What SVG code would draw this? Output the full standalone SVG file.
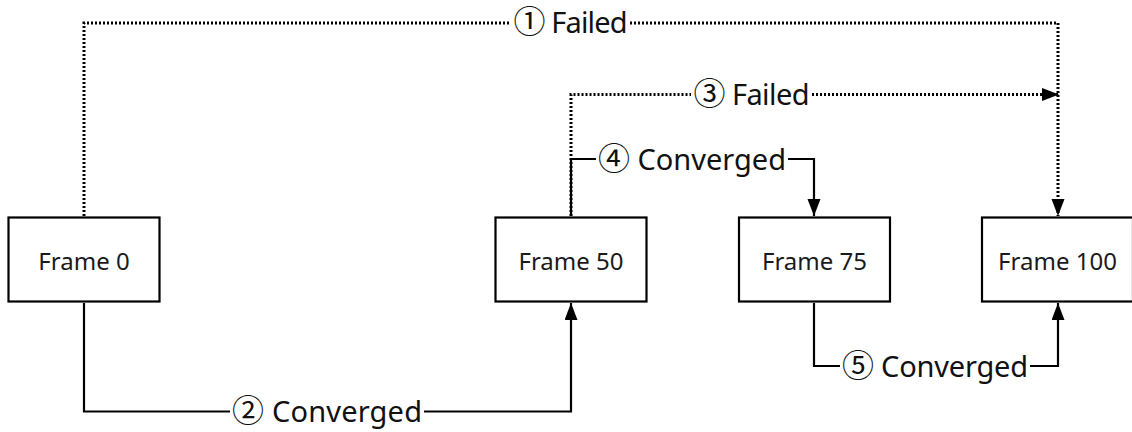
<svg xmlns="http://www.w3.org/2000/svg" width="1132" height="432" viewBox="0 0 1132 432">
  <style>
    .box { fill: #ffffff; stroke: #000000; stroke-width: 2.2; }
    .node-text { font-family: "Noto Sans", "Noto Sans CJK SC", sans-serif; font-size: 24px; fill: #1a1a1a; text-anchor: middle; }
    .solid { fill: none; stroke: #000000; stroke-width: 2.2; }
    .dotted { fill: none; stroke: #000000; stroke-width: 3; stroke-dasharray: 2 2; }
    .label { font-family: "Noto Sans", "Noto Sans CJK SC", sans-serif; font-size: 29px; fill: #111111; text-anchor: middle; }
    .num { font-size: 32px; }
  </style>
  <defs>
    <marker id="arrow" markerUnits="userSpaceOnUse" markerWidth="18" markerHeight="14" refX="17" refY="6.5" orient="auto">
      <path d="M0,0 L17,6.5 L0,13 Z" fill="#000000"/>
    </marker>
  </defs>
  <rect width="1132" height="432" fill="#ffffff"/>

  <g id="connectors">
    <!-- 1: Frame 0 -> Frame 100 (failed) -->
    <path class="dotted" d="M84,216 V23 H511"/>
    <path class="dotted" d="M630,23 H1058 V216" marker-end="url(#arrow)"/>
    <text class="label" x="570.5" y="33" textLength="114" lengthAdjust="spacing"><tspan class="num">①</tspan> Failed</text>

    <!-- 3: Frame 50 -> Frame 100 (failed) -->
    <path class="dotted" d="M571,216 V94.5 H691"/>
    <path class="dotted" d="M812,94.5 H1059" marker-end="url(#arrow)"/>
    <text class="label" x="751.5" y="105" textLength="116" lengthAdjust="spacing"><tspan class="num">③</tspan> Failed</text>

    <!-- 4: Frame 50 -> Frame 75 (converged) -->
    <path class="solid" d="M571,216 V159 H596"/>
    <path class="solid" d="M788,159 H814 V216" marker-end="url(#arrow)"/>
    <text class="label" x="692" y="169.5" textLength="188" lengthAdjust="spacing"><tspan class="num">④</tspan> Converged</text>

    <!-- 2: Frame 0 -> Frame 50 (converged) -->
    <path class="solid" d="M84,303 V411.5 H230"/>
    <path class="solid" d="M424,411.5 H571 V303" marker-end="url(#arrow)"/>
    <text class="label" x="327" y="422" textLength="190" lengthAdjust="spacing"><tspan class="num">②</tspan> Converged</text>

    <!-- 5: Frame 75 -> Frame 100 (converged) -->
    <path class="solid" d="M814,303 V366 H840"/>
    <path class="solid" d="M1030,366 H1058 V303" marker-end="url(#arrow)"/>
    <text class="label" x="935" y="376.5" textLength="186" lengthAdjust="spacing"><tspan class="num">⑤</tspan> Converged</text>
  </g>

  <g id="frame0">
    <rect class="box" x="8.5" y="217.5" width="151" height="84"/>
    <text class="node-text" x="84" y="270">Frame 0</text>
  </g>
  <g id="frame50">
    <rect class="box" x="495.5" y="217.5" width="151" height="84"/>
    <text class="node-text" x="571" y="270">Frame 50</text>
  </g>
  <g id="frame75">
    <rect class="box" x="739" y="217.5" width="151" height="84"/>
    <text class="node-text" x="814.5" y="270">Frame 75</text>
  </g>
  <g id="frame100">
    <rect class="box" x="982" y="217.5" width="151" height="84"/>
    <text class="node-text" x="1057.5" y="270">Frame 100</text>
  </g>
</svg>
